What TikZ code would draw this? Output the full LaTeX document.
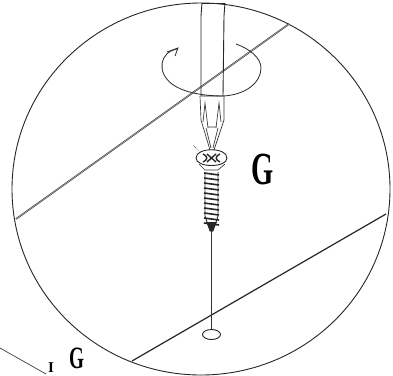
\documentclass[tikz,border=0pt]{standalone}
\usepackage{fontspec}
\setmainfont{Liberation Serif}
\tikzset{
  ink/.style={draw=black!85,line width=0.9pt},
  thinink/.style={draw=black!80,line width=0.65pt},
  letter/.style={inner sep=0pt,text=black}
}
\begin{document}
\begin{tikzpicture}[x=1pt,y=-1pt]
\useasboundingbox (0,0) rectangle (393,375);
\fill[white] (0,0) rectangle (393,375);
% magnifier circle
\draw[ink] (201,189) circle [x radius=189,y radius=186];
% board edges
\draw[draw=black!80,line width=0.55pt,double=black!25,double distance=0.5pt] (16,219) -- (289,24);
\draw[ink,line width=1.2pt] (132,361) -- (386,214);
% rotation arrow
\draw[thinink,line width=0.85pt] (177,49) .. controls (160,52) and (156,72) .. (172,84) .. controls (184,93) and (205,96) .. (223,96) .. controls (245,95) and (261,83) .. (261,68) .. controls (261,58) and (250,49) .. (236,44);
\draw[thinink,line width=0.85pt] (167,52) -- (178,48) -- (175,56);
% screwdriver shaft
\draw[ink] (201,16) -- (201,96) -- (223,96) -- (224,16);
\draw[ink] (201,16) -- (202,3) (224,16) -- (225,3);
\draw[ink] (202,3) -- (225,3);
% tip
\draw[thinink] (200,96) -- (201,120) -- (210,150) (224,96) -- (224,120) -- (214,150);
\draw[thinink] (203,122) -- (205,103) -- (208,128) (221,122) -- (219,103) -- (216,128);
\draw[thinink] (208,127) -- (216,127) (206,128) -- (211,148) (218,128) -- (213,148);
% screw head
\draw[ink] (196,158) .. controls (196,147) and (227,147) .. (227,158) .. controls (227,168) and (196,168) .. (196,158);
\draw[thinink] (199,164) -- (205,170) -- (218,170) -- (225,164);
\draw[ink,line width=1.4pt] (203,154) .. controls (208,156) and (208,160) .. (203,162);
\draw[ink,line width=1.4pt] (220,154) .. controls (215,156) and (215,160) .. (220,162);
\draw[ink,line width=1.4pt] (207,154) -- (216,162) (216,154) -- (207,162);
\draw[thinink,densely dotted] (193,145) -- (199,151);
% screw shaft
\draw[ink] (205,172) -- (205,216) -- (210,231) -- (213,231) -- (218,216) -- (218,172);
\foreach \yy in {173,178,...,223}{
  \draw[ink,line width=1.6pt] (204,\yy) -- (219,\yy+2);
}
\fill[black!85] (206,222) -- (217,222) -- (211.5,233) -- cycle;
% guide line and pilot hole
\draw[thinink] (211.5,231) -- (211.5,330);
\draw[ink] (211.5,334.5) circle [x radius=9,y radius=5];
% letters
\node[letter,font=\bfseries\fontsize{46}{46}\selectfont,xscale=0.62] (bigG) at (263,169) {G};
\node[letter,font=\bfseries\fontsize{31}{31}\selectfont,xscale=0.62] (smallG) at (76.5,358) {G};
\node[letter,font=\bfseries\fontsize{15}{15}\selectfont,anchor=base] (barI) at (51,372.5) {I};
% leader
\coordinate (leadA) at (0,348);
\coordinate (leadB) at (46,374);
\draw[thinink] (leadA) -- (leadB);
\end{tikzpicture}
\end{document}
